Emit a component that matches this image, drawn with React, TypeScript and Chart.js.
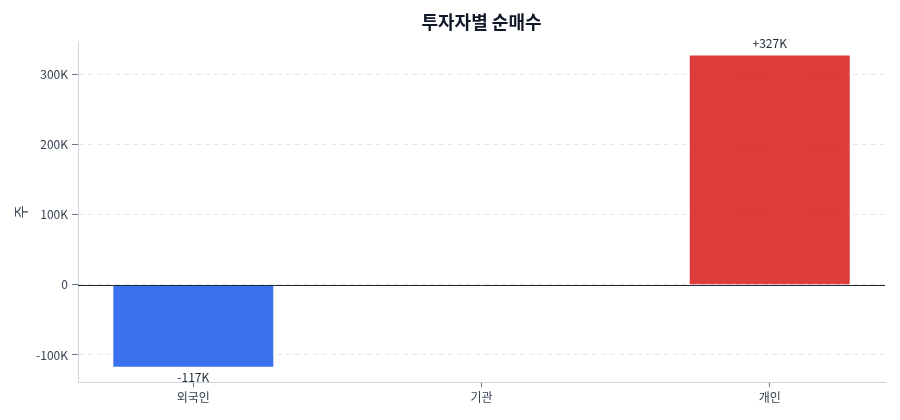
import { useEffect, useRef } from 'react'
import { Chart, registerables } from 'chart.js'

Chart.register(...registerables)

const categories = ['외국인', '기관', '개인']
const netBuy = [-117000, 0, 327000]
const yTickValues = [-100000, 0, 100000, 200000, 300000]
const valueLabels = ['-117K', '', '+327K']

const FONT = "'Noto Sans CJK KR', 'Noto Sans', sans-serif"

const fmtK = (v: number) => (v === 0 ? '0' : `${v / 1000}K`)

export default function App() {
  const canvasRef = useRef<HTMLCanvasElement>(null)
  const chartRef = useRef<Chart | null>(null)

  useEffect(() => {
    if (!canvasRef.current) return
    document.body.style.margin = '0'
    if (chartRef.current) { chartRef.current.destroy(); chartRef.current = null }
    const ctx = canvasRef.current.getContext('2d')!

    // zero baseline + value labels on bars
    const overlay = {
      id: 'overlay',
      afterDatasetsDraw(chart: any) {
        const { ctx: c, chartArea: { left, right }, scales: { y } } = chart
        const y0 = Math.round(y.getPixelForValue(0))
        c.save()
        c.strokeStyle = '#1f2937'
        c.lineWidth = 1
        c.beginPath(); c.moveTo(left, y0 + 0.5); c.lineTo(right, y0 + 0.5); c.stroke()

        c.font = `12px ${FONT}`
        c.fillStyle = '#1f2937'
        c.textAlign = 'center'
        const meta = chart.getDatasetMeta(0)
        meta.data.forEach((bar: any, i: number) => {
          const txt = valueLabels[i]
          if (!txt) return
          if (netBuy[i] >= 0) {
            c.textBaseline = 'bottom'
            c.fillText(txt, bar.x, bar.y - 6)
          } else {
            c.textBaseline = 'top'
            c.fillText(txt, bar.x, bar.y + 5)
          }
        })
        c.restore()
      },
    }

    chartRef.current = new Chart(ctx, {
      type: 'bar',
      data: {
        datasets: [{
          label: '순매수',
          data: netBuy.map((v, i) => ({ x: i, y: v })),
          backgroundColor: netBuy.map(v => (v < 0 ? 'rgba(37,99,235,0.9)' : 'rgba(220,38,38,0.9)')),
          borderWidth: 0,
          barPercentage: 0.555,
          categoryPercentage: 1,
        }],
      },
      options: {
        animation: false,
        responsive: true,
        maintainAspectRatio: false,
        layout: { padding: { left: 0, right: 15, top: 0, bottom: 0 } },
        plugins: {
          legend: { display: false },
          tooltip: { enabled: false },
          title: {
            display: true,
            text: '투자자별 순매수',
            fullSize: false,
            color: '#111827',
            font: { family: FONT, size: 18, weight: 'bold', lineHeight: 1.2 },
            padding: { top: 11, bottom: 9 },
          },
        },
        scales: {
          x: {
            type: 'linear',
            min: -0.4,
            max: 2.4,
            offset: false,
            afterBuildTicks: (s: any) => { s.ticks = categories.map((_, i) => ({ value: i })) },
            afterFit: (s: any) => { s.height = 38 },
            ticks: {
              color: '#374151',
              font: { family: FONT, size: 12 },
              padding: 3,
              callback: (v: any) => categories[v] ?? '',
            },
            grid: { offset: false, drawOnChartArea: false, drawTicks: true, tickLength: 5, tickColor: '#6b7280' },
            border: { color: '#cbd5e1', width: 1 },
          },
          y: {
            min: -138600,
            max: 347000,
            afterBuildTicks: (s: any) => { s.ticks = yTickValues.map(v => ({ value: v })) },
            afterFit: (s: any) => { s.width = 78 },
            ticks: {
              color: '#374151',
              font: { family: FONT, size: 12 },
              padding: 4,
              callback: (v: any) => fmtK(v),
            },
            title: {
              display: true,
              text: '주',
              color: '#374151',
              font: { family: FONT, size: 14 },
              padding: { top: 12, bottom: 0 },
            },
            grid: {
              color: '#e5e7eb',
              tickColor: '#6b7280',
              tickLength: 6,
            },
            border: { color: '#cbd5e1', width: 1, dash: [5, 4] },
          },
        },
      },
      plugins: [overlay],
    })

    return () => { chartRef.current?.destroy(); chartRef.current = null }
  }, [])

  return (
    <div style={{ position: 'fixed', left: 0, top: 0, width: 900, height: 420, background: '#fff' }}>
      <canvas ref={canvasRef} />
    </div>
  )
}
